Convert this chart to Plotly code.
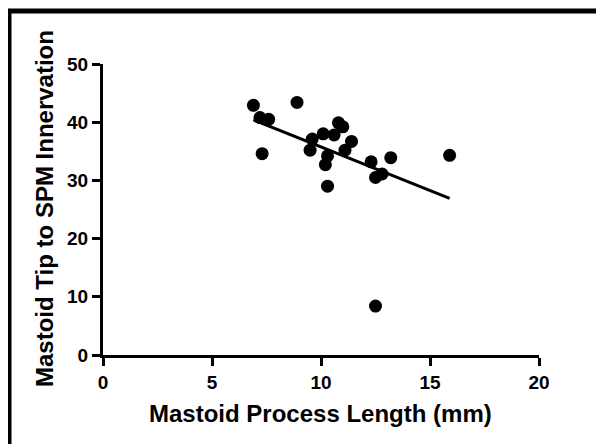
import numpy as np
import plotly.graph_objects as go

# Data
mastoid_length_mm = [6.9, 8.9, 7.2, 7.6, 7.3, 9.6, 9.5, 10.1, 10.6, 10.8, 11.0,
                     10.3, 10.2, 10.3, 11.4, 11.1, 12.3, 13.2, 12.8, 12.5, 15.9, 12.5]
tip_to_spm_mm = [42.9, 43.4, 40.8, 40.5, 34.6, 37.1, 35.2, 38.0, 37.8, 39.9, 39.2,
                 34.2, 32.7, 29.0, 36.7, 35.2, 33.2, 33.9, 31.1, 30.5, 34.3, 8.4]

x_ticks = [0, 5, 10, 15, 20]
y_ticks = [0, 10, 20, 30, 40, 50]

x_title = "Mastoid Process Length (mm)"
y_title = "Mastoid Tip to SPM Innervation"

# linear regression across the observed x span
slope, intercept = np.polyfit(mastoid_length_mm, tip_to_spm_mm, 1)
fit_x = [min(mastoid_length_mm), max(mastoid_length_mm)]
fit_y = [slope * v + intercept for v in fit_x]

font_family = "Liberation Sans, Arial, sans-serif"

# page offset of the figure (browser body margin)
off = 8
L, T, PW, PH = 103 - off, 64 - off, 436, 291
W, H = 604, 444


def px(page_x):
    return (page_x - off - L) / PW


def py(page_y):
    return 1 - (page_y - off - T) / PH


fig = go.Figure()
fig.add_trace(go.Scatter(
    x=mastoid_length_mm, y=tip_to_spm_mm, mode="markers",
    marker=dict(color="black", size=13, line=dict(width=0)),
    showlegend=False, cliponaxis=False))
fig.add_trace(go.Scatter(
    x=fit_x, y=fit_y, mode="lines",
    line=dict(color="black", width=3),
    showlegend=False))

axis_common = dict(
    showline=True, linecolor="black", linewidth=3,
    ticks="outside", ticklen=8, tickwidth=3, tickcolor="black",
    showgrid=False, zeroline=False, automargin=False,
    tickfont=dict(family=font_family, size=19, color="black", weight="bold"),
)

title_font = dict(family=font_family, size=24, color="black", weight="bold")

fig.update_layout(
    width=W, height=H,
    margin=dict(l=L, r=W - L - PW, t=T, b=H - T - PH),
    paper_bgcolor="white", plot_bgcolor="white",
    xaxis=dict(range=[0, 20], tickvals=x_ticks, **axis_common),
    yaxis=dict(range=[0, 50], tickvals=y_ticks, **axis_common),
    annotations=[
        dict(text=x_title, xref="paper", yref="paper", x=px(320), y=py(413),
             xanchor="center", yanchor="middle", showarrow=False, font=title_font),
        dict(text=y_title, xref="paper", yref="paper", x=px(44), y=py(209),
             xanchor="center", yanchor="middle", showarrow=False, textangle=-90,
             font=title_font),
    ],
    shapes=[
        # frame lines on the top and left edges of the image
        dict(type="line", xref="paper", yref="paper",
             x0=px(7), x1=1.3, y0=py(11), y1=py(11),
             line=dict(color="black", width=5)),
        dict(type="line", xref="paper", yref="paper",
             x0=px(9), x1=px(9), y0=py(460), y1=py(9),
             line=dict(color="black", width=5)),
    ],
)

fig.write_html("out.html")
